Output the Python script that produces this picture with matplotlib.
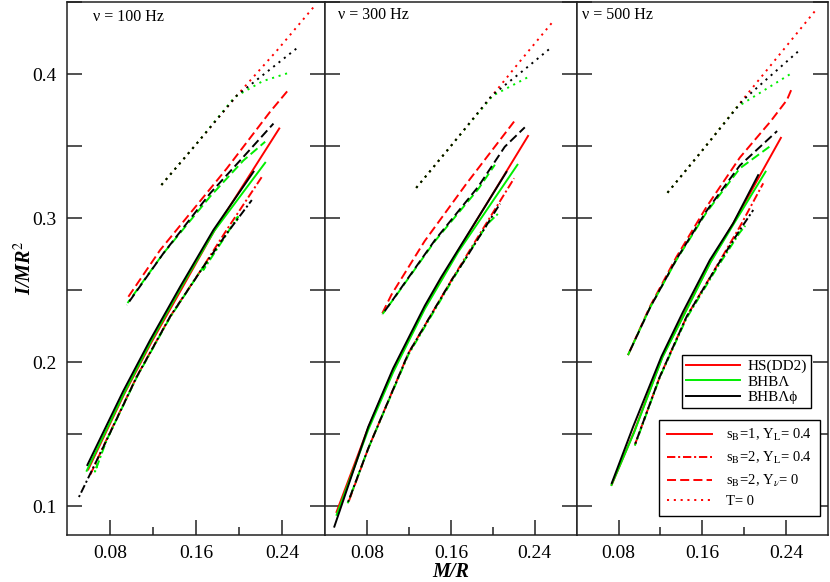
import matplotlib
matplotlib.use("Agg")
import matplotlib.pyplot as plt
from matplotlib.lines import Line2D

plt.rcParams['font.family'] = ['Liberation Serif', 'DejaVu Serif']
plt.rcParams['mathtext.fontset'] = 'stix'
plt.rcParams['lines.scale_dashes'] = False

# ---------------- data: (M/R, I/MR^2) ----------------
# nu = 100 Hz
p100_T0_red = [(0.128, 0.323), (0.160, 0.351), (0.198, 0.385), (0.235, 0.416), (0.270, 0.447)]
p100_T0_grn = [(0.128, 0.323), (0.160, 0.351), (0.196, 0.384), (0.222, 0.395), (0.247, 0.401)]
p100_T0_blk = [(0.128, 0.323), (0.160, 0.351), (0.198, 0.385), (0.232, 0.405), (0.254, 0.418)]
p100_nu0_red = [(0.0973, 0.2454), (0.1268, 0.2778), (0.1547, 0.3033), (0.1888, 0.3345), (0.229, 0.3738), (0.246, 0.389)]
p100_nu0_grn = [(0.0965, 0.2410), (0.1298, 0.2755), (0.1733, 0.3150), (0.2042, 0.3400), (0.2244, 0.3530)]
p100_nu0_blk = [(0.0958, 0.2396), (0.1298, 0.2755), (0.1733, 0.3172), (0.2042, 0.3425), (0.2321, 0.3656)]
p100_s1_red = [(0.0600, 0.1255), (0.0935, 0.1780), (0.1185, 0.2135), (0.1465, 0.2505), (0.1775, 0.2917), (0.2375, 0.3622)]
p100_s1_grn = [(0.0586, 0.1246), (0.0930, 0.1780), (0.1180, 0.2140), (0.1460, 0.2515), (0.1770, 0.2910), (0.2244, 0.3384)]
p100_s1_blk = [(0.0592, 0.1286), (0.0926, 0.1800), (0.1175, 0.2153), (0.1454, 0.2523), (0.1763, 0.2917), (0.2136, 0.3322)]
p100_s2_red = [(0.0620, 0.1220), (0.0772, 0.1465), (0.1051, 0.1900), (0.1360, 0.2315), (0.1670, 0.2665), (0.1888, 0.2920), (0.2214, 0.3287)]
p100_s2_grn = [(0.0685, 0.1290), (0.0663, 0.1240), (0.0772, 0.1460), (0.1051, 0.1895), (0.1360, 0.2310), (0.1700, 0.2697),
               (0.1670, 0.2640), (0.1888, 0.2890), (0.1990, 0.3010), (0.1970, 0.2960)]
p100_s2_blk = [(0.0508, 0.1055), (0.0772, 0.1460), (0.1051, 0.1899), (0.1360, 0.2315), (0.1670, 0.2662), (0.1888, 0.2894), (0.2120, 0.3125)]

# nu = 300 Hz
p300_T0_red = [(0.127, 0.321), (0.160, 0.350), (0.195, 0.381), (0.225, 0.408), (0.258, 0.437)]
p300_T0_grn = [(0.127, 0.321), (0.160, 0.350), (0.200, 0.385), (0.234, 0.398)]
p300_T0_blk = [(0.127, 0.321), (0.160, 0.350), (0.199, 0.385), (0.230, 0.403), (0.255, 0.418)]
p300_nu0_red = [(0.0946, 0.2339), (0.1035, 0.2470), (0.1350, 0.2840), (0.1750, 0.3240), (0.2203, 0.3670)]
p300_nu0_grn = [(0.0950, 0.2335), (0.1070, 0.2454), (0.1448, 0.2840), (0.1860, 0.3200), (0.2020, 0.3370)]
p300_nu0_blk = [(0.0946, 0.2330), (0.1067, 0.2454), (0.1448, 0.2847), (0.1860, 0.3217), (0.2114, 0.3495), (0.2305, 0.3630)]
p300_s1_red = [(0.0510, 0.0960), (0.0812, 0.1545), (0.1050, 0.1945), (0.1352, 0.2380), (0.1670, 0.2775), (0.2336, 0.3570)]
p300_s1_grn = [(0.0511, 0.0940), (0.0812, 0.1530), (0.1050, 0.1930), (0.1352, 0.2370), (0.1670, 0.2765), (0.2235, 0.3370)]
p300_s1_blk = [(0.0489, 0.0858), (0.0812, 0.1550), (0.1050, 0.1957), (0.1352, 0.2392), (0.1508, 0.2590), (0.1670, 0.2780), (0.2130, 0.3320)]
p300_s2_red = [(0.0630, 0.1040), (0.0812, 0.1400), (0.1194, 0.2060), (0.1607, 0.2570), (0.1800, 0.2800), (0.2203, 0.3276)]
p300_s2_grn = [(0.0616, 0.1020), (0.0812, 0.1400), (0.1194, 0.2050), (0.1607, 0.2560), (0.1800, 0.2790), (0.1950, 0.2960), (0.2050, 0.3030)]
p300_s2_blk = [(0.0616, 0.1020), (0.0812, 0.1400), (0.1194, 0.2060), (0.1607, 0.2570), (0.1733, 0.2709), (0.2069, 0.3100)]

# nu = 500 Hz
p500_T0_red = [(0.1267, 0.3176), (0.160, 0.347), (0.195, 0.379), (0.232, 0.412), (0.269, 0.445)]
p500_T0_grn = [(0.1267, 0.3176), (0.160, 0.347), (0.193, 0.377), (0.244, 0.400)]
p500_T0_blk = [(0.1267, 0.3176), (0.160, 0.347), (0.199, 0.382), (0.252, 0.416)]
p500_nu0_red = [(0.0890, 0.2049), (0.1098, 0.2384), (0.1353, 0.2731), (0.1640, 0.3078), (0.1958, 0.3420), (0.2181, 0.3611),
                (0.2248, 0.3668), (0.2408, 0.3820), (0.2449, 0.3890)]
p500_nu0_grn = [(0.0890, 0.2049), (0.1098, 0.2375), (0.1353, 0.2710), (0.1640, 0.3040), (0.1958, 0.3345), (0.2240, 0.3495)]
p500_nu0_blk = [(0.0890, 0.2049), (0.1098, 0.2375), (0.1353, 0.2715), (0.1640, 0.3050), (0.1958, 0.3365), (0.2314, 0.3604)]
p500_s1_red = [(0.0735, 0.1150), (0.0950, 0.1520), (0.1220, 0.2040), (0.1430, 0.2340), (0.1680, 0.2700), (0.1900, 0.2970), (0.2350, 0.3557)]
p500_s1_grn = [(0.0732, 0.1147), (0.0950, 0.1515), (0.1220, 0.2035), (0.1430, 0.2335), (0.1680, 0.2695), (0.1900, 0.2960), (0.2204, 0.3322)]
p500_s1_blk = [(0.0735, 0.1160), (0.0938, 0.1550), (0.1210, 0.2040), (0.1416, 0.2350), (0.1672, 0.2709), (0.1894, 0.2963), (0.2133, 0.3298)]
p500_s2_red = [(0.0955, 0.1425), (0.1194, 0.1899), (0.1449, 0.2315), (0.1736, 0.2665), (0.1958, 0.2940), (0.2181, 0.3241)]
p500_s2_grn = [(0.0955, 0.1420), (0.1194, 0.1895), (0.1449, 0.2305), (0.1736, 0.2650), (0.1958, 0.2900), (0.2010, 0.2947)]
p500_s2_blk = [(0.0955, 0.1425), (0.1194, 0.1899), (0.1449, 0.2315), (0.1736, 0.2662), (0.1958, 0.2917), (0.2086, 0.3056)]

panel_labels = ['ν = 100 Hz', 'ν = 300 Hz', 'ν = 500 Hz']
eos_labels = ['HS(DD2)', 'BHBΛ', 'BHBΛϕ']
case_labels = ['s$_\\mathrm{B}$=1, Y$_\\mathrm{L}$= 0.4', 's$_\\mathrm{B}$=2, Y$_\\mathrm{L}$= 0.4',
               's$_\\mathrm{B}$=2, Y$_\\nu$= 0', 'T= 0']

# ---------------- styles ----------------
RED, GRN, BLK = '#ff0000', '#00ee00', '#000000'
# dash patterns (points); dashed groups get a phase per colour so overlapping curves interleave
patterns = {
    's1': None,
    's2': (6, 2, 1.5, 2),
    'nu0': (6.5, 3),
    'T0': (1.5, 3.4),
}
phases = {
    's1': (0, 0, 0),
    's2': (0, 3.5, 7),
    'nu0': (0, 3.2, 6.4),
    'T0': (0, 0, 0),
}
LW = 1.4


def style(key, k=0):
    if patterns[key] is None:
        return '-'
    return (phases[key][k], patterns[key])


panels = [
    {'T0': (p100_T0_red, p100_T0_grn, p100_T0_blk), 'nu0': (p100_nu0_red, p100_nu0_grn, p100_nu0_blk),
     's1': (p100_s1_red, p100_s1_grn, p100_s1_blk), 's2': (p100_s2_red, p100_s2_grn, p100_s2_blk)},
    {'T0': (p300_T0_red, p300_T0_grn, p300_T0_blk), 'nu0': (p300_nu0_red, p300_nu0_grn, p300_nu0_blk),
     's1': (p300_s1_red, p300_s1_grn, p300_s1_blk), 's2': (p300_s2_red, p300_s2_grn, p300_s2_blk)},
    {'T0': (p500_T0_red, p500_T0_grn, p500_T0_blk), 'nu0': (p500_nu0_red, p500_nu0_grn, p500_nu0_blk),
     's1': (p500_s1_red, p500_s1_grn, p500_s1_blk), 's2': (p500_s2_red, p500_s2_grn, p500_s2_blk)},
]

W, H = 830, 582
fig = plt.figure(figsize=(W / 100, H / 100), dpi=100)

# axes edges in pixels (left, right)
edges = [(66.7, 325.0), (325.0, 576.7), (576.7, 828.0)]
top_px, bot_px = 2.0, 535.0
label_px = [(93, 17), (338, 15), (582, 15)]

axes = []
for i, (l, r) in enumerate(edges):
    ax = fig.add_axes([l / W, 1 - bot_px / H, (r - l) / W, (bot_px - top_px) / H])
    axes.append(ax)
    for key in ['s2', 's1', 'nu0', 'T0']:
        for k, (pts, col) in enumerate(zip(panels[i][key], [RED, GRN, BLK])):
            xs, ys = zip(*pts)
            ax.plot(xs, ys, color=col, lw=LW, ls=style(key, k), dash_capstyle='butt')
    ax.set_xlim(0.04, 0.28)
    ax.set_ylim(0.08, 0.45)
    ax.set_xticks([0.08, 0.16, 0.24])
    ax.set_xticks([0.12, 0.20], minor=True)
    ax.set_xticklabels(['0.08', '0.16', '0.24'])
    ax.set_yticks([0.1, 0.2, 0.3, 0.4])
    ax.set_yticks([0.15, 0.25, 0.35, 0.45], minor=True)
    ax.tick_params(axis='both', which='both', direction='in', width=1.1, labelsize=14, pad=7, colors='#222222')
    ax.tick_params(axis='x', which='major', length=11, top=False)
    ax.tick_params(axis='x', which='minor', length=5.5, top=False)
    ax.tick_params(axis='y', which='both', length=11, right=True)
    ax.tick_params(labelcolor='black')
    if i > 0:
        ax.tick_params(axis='y', labelleft=False)
    for sp in ax.spines.values():
        sp.set_linewidth(1.1)
        sp.set_color('#222222')
    fig.text(label_px[i][0] / W, 1 - label_px[i][1] / H, panel_labels[i], fontsize=11.5, va='center', ha='left')

fig.text(451 / W, 1 - 572 / H, 'M/R', fontsize=14.5, fontweight='bold', style='italic', ha='center', va='center')
fig.text(25 / W, 1 - 268 / H, 'I/MR$^2$', fontsize=14.5, fontweight='bold', style='italic', ha='center', va='center',
         rotation=90)

# legends
eos_handles = [Line2D([], [], color=c, lw=LW) for c in [RED, GRN, BLK]]
leg1 = axes[2].legend(eos_handles, eos_labels, loc='upper left', bbox_to_anchor=(681.7 / W, 1 - 355 / H),
                      bbox_transform=fig.transFigure, borderaxespad=0, fontsize=11, frameon=True, fancybox=False,
                      edgecolor='black', framealpha=1, handlelength=3.5, handletextpad=0.5, labelspacing=0.1,
                      borderpad=0.3)
leg1.get_frame().set_linewidth(1.0)
axes[2].add_artist(leg1)

case_handles = [Line2D([], [], color=RED, lw=LW, ls=style(k)) for k in ['s1', 's2', 'nu0', 'T0']]
leg2 = axes[2].legend(case_handles, case_labels, loc='upper left', bbox_to_anchor=(659.3 / W, 1 - 420 / H),
                      bbox_transform=fig.transFigure, borderaxespad=0, fontsize=10.5, frameon=True, fancybox=False,
                      edgecolor='black', framealpha=1, handlelength=3.1, handletextpad=1.0, labelspacing=0.45,
                      borderpad=0.5)
leg2.get_frame().set_linewidth(1.0)

fig.savefig('out.png', dpi=100)
